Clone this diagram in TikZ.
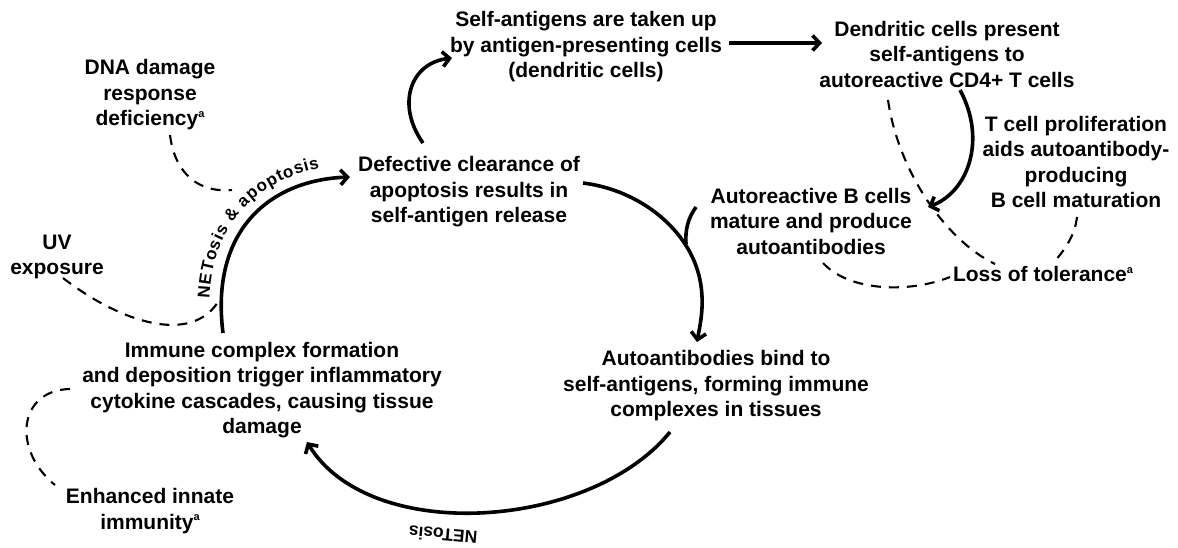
\documentclass[tikz,border=0pt]{standalone}
\usepackage{fontspec}
\setmainfont{Liberation Sans}
\usetikzlibrary{arrows.meta,decorations.text}

% small raised note marker
\newcommand{\notemark}{\raisebox{0.75ex}{\fontsize{11}{11}\selectfont a}}

\begin{document}
\begin{tikzpicture}[x=1pt,y=-1pt,
  lbl/.style={align=center, inner sep=0pt,
    font=\bfseries\fontsize{21}{25.5}\selectfont},
  small/.style={inner sep=0pt, font=\bfseries\fontsize{17.5}{17.5}\selectfont},
  flow/.style={line width=3.6pt, -{Straight Barb[length=7pt,width=15pt]}},
  plain/.style={line width=3.6pt},
  hint/.style={line width=2.1pt, dash pattern=on 10pt off 8pt},
]
\useasboundingbox (0,0) rectangle (1178,547);

% ---- statements of the cycle ----
\node[lbl] (selfag) at (586,47) {Self-antigens are taken up\\by antigen-presenting cells\\(dendritic cells)};
\node[lbl] (dendr)  at (947,54) {Dendritic cells present\\self-antigens to\\autoreactive CD4+ T cells};
\node[lbl] (tcell)  at (1076,162) {T cell proliferation\\aids autoantibody-\\producing\\B cell maturation};
\node[lbl] (bcell)  at (811,221) {Autoreactive B cells\\mature and produce\\autoantibodies};
\node[lbl] (loss)   at (1043,274) {Loss of tolerance\notemark};
\node[lbl] (autob)  at (716,386) {Autoantibodies bind to\\self-antigens, forming immune\\complexes in tissues};
\node[lbl] (immune) at (262,390) {Immune complex formation\\and deposition trigger inflammatory\\cytokine cascades, causing tissue\\damage};
\node[lbl] (enh)    at (150,511) {Enhanced innate\\immunity\notemark};
\node[lbl] (uv)     at (57,257)  {UV\\exposure};
\node[lbl] (dna)    at (150,95)  {DNA damage\\response\\deficiency\notemark};
\node[lbl] (defect) at (469,192) {Defective clearance of\\apoptosis results in\\self-antigen release};

% ---- connector end points ----
\coordinate (defect-up)   at (423,143);
\coordinate (selfag-in)   at (452,58);
\coordinate (selfag-out)  at (729,43);
\coordinate (dendr-in)    at (822,43);
\coordinate (dendr-out)   at (960,90);
\coordinate (bcell-in)    at (928,207);
\coordinate (dendr-dash)  at (888,100);
\coordinate (loss-top)    at (995,264);
\coordinate (tcell-dash)  at (1077,217);
\coordinate (loss-right)  at (1053,263);
\coordinate (bcell-dash)  at (823,263);
\coordinate (loss-left)   at (950,277);
\coordinate (defect-out)  at (583,183);
\coordinate (arc-mid)     at (700,280);
\coordinate (autob-in)    at (697,342);
\coordinate (bcell-out)   at (696,207);
\coordinate (merge)       at (686,244);
\coordinate (autob-out)   at (670,432);
\coordinate (immune-in)   at (307,442);
\coordinate (immune-out)  at (223,333);
\coordinate (defect-in)   at (350,177);
\coordinate (dna-dash)    at (170,135);
\coordinate (dna-end)     at (232,190);
\coordinate (uv-dash)     at (63,278);
\coordinate (uv-end)      at (218,302);
\coordinate (enh-top)     at (70,389);
\coordinate (enh-end)     at (55,485);

% ---- main cycle ----
\draw[flow] (defect-up) .. controls (396,105) and (410,63) .. (selfag-in);
\draw[flow] (selfag-out) -- (dendr-in);
\draw[flow] (dendr-out) .. controls (987,140) and (968,192) .. (bcell-in);
\draw[flow] (defect-out) .. controls (640,190) and (690,230) .. (arc-mid)
                         .. controls (705,305) and (700,325) .. (autob-in);
\draw[plain] (bcell-out) .. controls (688,218) and (685,230) .. (merge);
\draw[flow] (autob-out) .. controls (590,530) and (370,545) .. (immune-in);
\draw[flow] (immune-out) .. controls (210,230) and (270,180) .. (defect-in);

% ---- labels on the arcs ----
\path[decorate, decoration={text along path, raise=12pt,
    text format delimiters={|}{|},
    text align={left indent=34pt},
    text={|\bfseries\fontsize{17}{17}\selectfont|NETosis {\&} apoptosis}}]
  (immune-out) .. controls (210,230) and (270,180) .. (defect-in);
\node[small, rotate=175] (netosis) at (443,535) {NETosis};

% ---- contributing factors ----
\draw[hint] (dendr-dash) .. controls (898,170) and (945,240) .. (loss-top);
\draw[hint] (tcell-dash) .. controls (1075,235) and (1065,250) .. (loss-right);
\draw[hint] (bcell-dash) .. controls (850,292) and (910,293) .. (loss-left);
\draw[hint] (dna-dash) .. controls (175,175) and (200,193) .. (dna-end);
\draw[hint] (uv-dash) .. controls (120,322) and (190,345) .. (uv-end);
\draw[hint] (enh-top) .. controls (18,390) and (12,450) .. (enh-end);
\end{tikzpicture}
\end{document}
